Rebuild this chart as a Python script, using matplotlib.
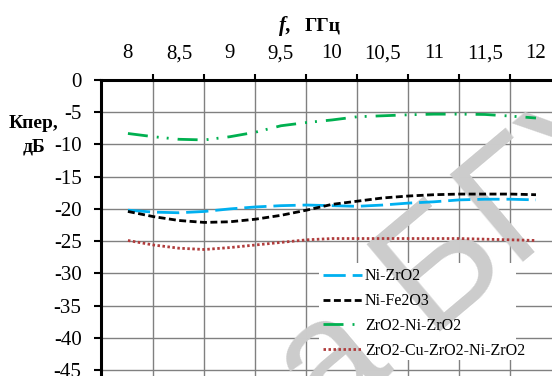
import matplotlib
matplotlib.use("Agg")
import matplotlib.pyplot as plt
from matplotlib.patches import Rectangle

plt.rcParams['font.family'] = ['Liberation Serif', 'DejaVu Serif']
plt.rcParams['lines.scale_dashes'] = False

# frequency, GHz (read at 0.25 GHz steps)
freq = [8.0, 8.25, 8.5, 8.75, 9.0, 9.25, 9.5, 9.75, 10.0,
        10.25, 10.5, 10.75, 11.0, 11.25, 11.5, 11.75, 12.0]

ni_zro2 = [-20.2, -20.5, -20.6, -20.4, -20.0, -19.7, -19.5, -19.4, -19.5,
           -19.6, -19.4, -19.1, -18.9, -18.6, -18.5, -18.5, -18.6]
ni_fe2o3 = [-20.4, -21.2, -21.8, -22.1, -22.0, -21.6, -21.0, -20.2, -19.3,
            -18.8, -18.3, -18.0, -17.8, -17.7, -17.7, -17.7, -17.8]
zro2_ni_zro2 = [-8.3, -8.8, -9.2, -9.3, -8.8, -8.1, -7.1, -6.6, -6.2,
                -5.7, -5.55, -5.4, -5.3, -5.3, -5.35, -5.6, -5.9]
zro2_cu_ni = [-24.9, -25.6, -26.1, -26.3, -26.0, -25.6, -25.2, -24.8, -24.6,
              -24.6, -24.6, -24.6, -24.6, -24.6, -24.7, -24.8, -24.9]

x_ticks = [8, 8.5, 9, 9.5, 10, 10.5, 11, 11.5, 12]
x_labels = ['8', '8,5', '9', '9,5', '10', '10,5', '11', '11,5', '12']
y_ticks = [0, -5, -10, -15, -20, -25, -30, -35, -40, -45]
y_labels = ['0', '-5', '-10', '-15', '-20', '-25', '-30', '-35', '-40', '-45']

W, H = 552, 376
fig = plt.figure(figsize=(W / 100, H / 100), dpi=100)
ax = fig.add_axes([101 / W, 0, 451 / W, 296 / H])

ax.plot(freq, ni_zro2, color='#00B0F0', lw=2, dashes=(16, 5), label='Ni-ZrO2')
ax.plot(freq, ni_fe2o3, color='black', lw=2, dashes=(5, 2.5), label='Ni-Fe2O3')
ax.plot(freq, zro2_ni_zro2, color='#00B050', lw=2,
        dashes=(14.4, 6.5, 1.4, 5.8, 1.4, 6.5), label='ZrO2-Ni-ZrO2')
ax.plot(freq, zro2_cu_ni, color='#B03C3C', lw=2, dashes=(1.8, 1.8),
        label='ZrO2-Cu-ZrO2-Ni-ZrO2')

ax.set_xlim(7.736, 12.157)
ax.set_ylim(-45.93, 0)

# category boundaries -> gridlines and tick marks, centres -> labels
bounds = [b + 0.25 for b in x_ticks[:-1]]
ax.xaxis.tick_top()
ax.set_xticks(bounds)
ax.set_xticklabels([])
ax.set_xticks(x_ticks, minor=True)
ax.set_xticklabels(x_labels, minor=True)
ax.tick_params(axis='x', which='major', length=4, width=1.5, direction='out')
ax.tick_params(axis='x', which='minor', length=0, pad=12, labelsize=15)
ax.set_yticks(y_ticks)
ax.set_yticklabels(y_labels)
ax.tick_params(axis='y', length=5, width=1.5, pad=9, labelsize=15)

ax.grid(True, which='major', color='#808080', lw=1)
ax.set_axisbelow(True)
for s in ['right', 'bottom']:
    ax.spines[s].set_visible(False)
for s in ['top', 'left']:
    ax.spines[s].set_linewidth(2.2)

# white box behind the legend (hides the grid)
ax.add_patch(Rectangle((319 / W, 1 - 360 / H), 197 / W, 97 / H, transform=fig.transFigure,
                       facecolor='white', edgecolor='none', zorder=1, clip_on=False))

# library watermark, mostly outside the picture
ax.text(325 / W, 1 - 428 / H, 'а БГУИР', transform=fig.transFigure, color='#cccccc',
        fontsize=119, rotation=40, ha='left', va='baseline', rotation_mode='anchor',
        zorder=1.5, family='Liberation Sans', clip_on=False)

fig.text(279 / W, 1 - 26 / H, 'f,', ha='left', va='center', fontsize=15,
         fontweight='bold', fontstyle='italic')
fig.text(305 / W, 1 - 26 / H, 'ГГц', ha='left', va='center', fontsize=14,
         fontweight='bold')
fig.text(34 / W, 1 - 135 / H, 'Кпер,\nдБ', ha='center', va='center',
         fontsize=14, fontweight='bold', multialignment='center', linespacing=1.5)

leg = ax.legend(loc='upper left', bbox_to_anchor=(309 / W, 1 - 254 / H),
                bbox_transform=fig.transFigure, fontsize=11.5, frameon=False,
                handlelength=2.4, handletextpad=0.2, labelspacing=0.55, borderpad=0.4)

fig.savefig('out.png', dpi=100)
